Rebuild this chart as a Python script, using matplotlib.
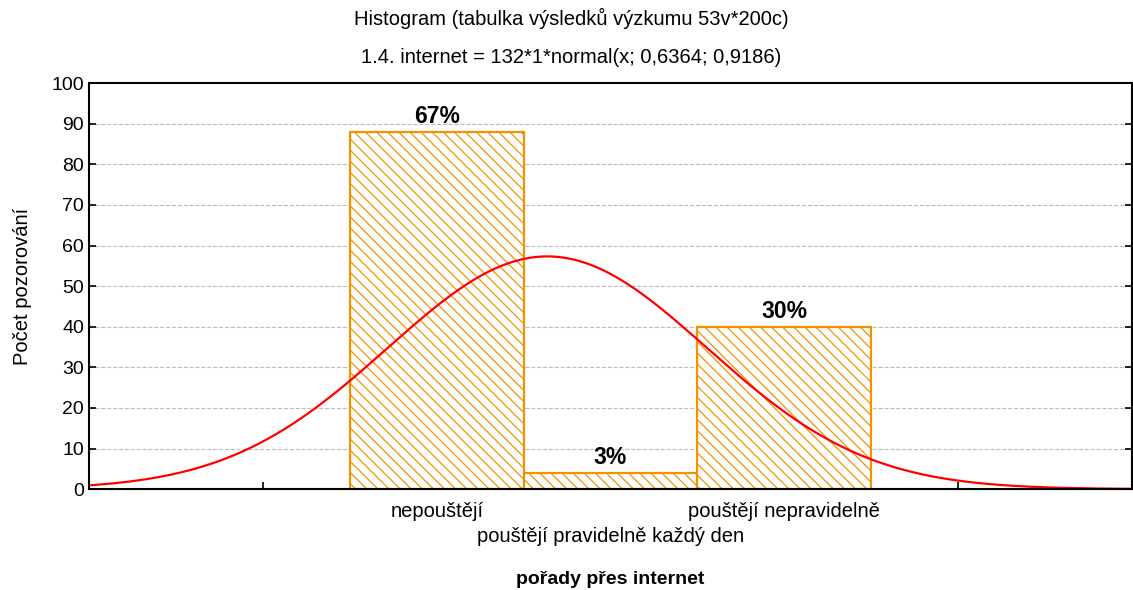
import numpy as np
import matplotlib.pyplot as plt

plt.rcParams['font.family'] = ['Liberation Sans', 'DejaVu Sans']

# data
categories = ["nepouštějí", "pouštějí pravidelně každý den", "pouštějí nepravidelně"]
counts = [88, 4, 40]
percents = ["67%", "3%", "30%"]
positions = [0, 1, 2]
# fitted normal from the subtitle: 132*1*normal(x; 0,6364; 0,9186)
n_total, bin_width, mu, sigma = 132, 1, 0.6364, 0.9186

fig = plt.figure(figsize=(11.33, 5.9), dpi=100)
ax = fig.add_axes([0.0786, 0.171, 0.9205, 0.688])

orange = '#f39200'
plt.rcParams['hatch.linewidth'] = 0.9
bars = ax.bar(positions, counts, width=1, facecolor='white', edgecolor=orange,
              hatch='\\\\\\', linewidth=1.6, zorder=3)

for p, c, t in zip(positions, counts, percents):
    ax.text(p, c + 1.0, t, ha='center', va='bottom', fontsize=16.5, fontweight='bold', zorder=5)

xs = np.linspace(-2, 4, 400)
ys = n_total * bin_width * np.exp(-0.5 * ((xs - mu) / sigma) ** 2) / (sigma * np.sqrt(2 * np.pi))
ax.plot(xs, ys, color='red', linewidth=1.6, zorder=4)

ax.set_xlim(-2, 4)
ax.set_ylim(0, 100)
ax.set_yticks(range(0, 101, 10))
ax.set_xticks([-1, 0, 1, 2, 3])
ax.set_xticklabels(['', categories[0], categories[1], categories[2], ''])
ax.tick_params(direction='in', length=5, width=1.2, labelsize=14, right=True, top=False)
ax.tick_params(axis='x', labelsize=14.5, pad=9)
# stagger the middle category onto a second row
ax.xaxis.get_major_ticks()[2].set_pad(27)
ax.yaxis.grid(True, linestyle='--', color='#bbbbbb', linewidth=0.8, zorder=0)
ax.set_axisbelow(True)
for s in ax.spines.values():
    s.set_linewidth(1.5)
    s.set_zorder(6)

ax.set_ylabel("Počet pozorování", fontsize=14.5, labelpad=14)
ax.set_xlabel("pořady přes internet", fontsize=14, fontweight='bold', labelpad=18)
fig.text(0.504, 0.968, "Histogram (tabulka výsledků výzkumu 53v*200c)", ha='center', va='center', fontsize=14.5)
fig.text(0.504, 0.902, "1.4. internet = 132*1*normal(x; 0,6364; 0,9186)", ha='center', va='center', fontsize=14.5)

fig.savefig('out.png', dpi=100)
